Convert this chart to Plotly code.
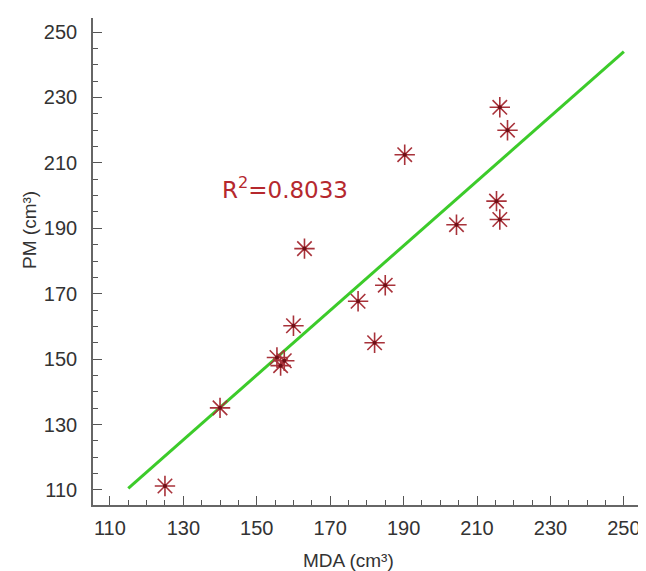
import plotly.graph_objects as go

# Data
mda = [125, 140, 155.5, 156.5, 157.5, 160, 163, 177.6, 182.1, 185, 190.3, 204.4, 215.3, 216.2, 216.2, 218.3]
pm = [111.2, 135.1, 150.5, 148.0, 149.5, 160.2, 183.8, 167.7, 155.0, 172.6, 212.5, 191.1, 198.3, 192.7, 227.0, 220.0]

fit_x = [115, 250]
fit_y = [110.5, 244]

r2_text = "R<sup>2</sup>=0.8033"
x_title = "MDA (cm³)"
y_title = "PM (cm³)"

fig = go.Figure()
fig.add_trace(go.Scatter(
    x=fit_x, y=fit_y, mode="lines",
    line=dict(color="#3ccb2a", width=3), showlegend=False, hoverinfo="skip"))
fig.add_trace(go.Scatter(
    x=mda, y=pm, mode="markers",
    marker=dict(symbol="asterisk", size=17, color="#8e1b22",
                line=dict(color="#a8323a", width=1.6)),
    showlegend=False))
fig.add_trace(go.Scatter(
    x=mda, y=pm, mode="markers",
    marker=dict(symbol="circle", size=4, color="#6e0f16"),
    showlegend=False, hoverinfo="skip"))

axis_common = dict(
    showgrid=False, zeroline=False, showline=True, linecolor="#666666", linewidth=1.6,
    ticks="inside", ticklen=9, tickwidth=1.4, tickcolor="#555555",
    tickfont=dict(family="Liberation Sans, Arial", size=20, color="#333333"),
    tickmode="linear", tick0=110, dtick=20,
    minor=dict(ticks="inside", ticklen=5, tickwidth=1.2, tickcolor="#555555",
               tickmode="linear", dtick=5, tick0=110, showgrid=False),
)

fig.update_xaxes(range=[105.4, 258.2], ticklabelstandoff=4, **axis_common)
fig.update_yaxes(range=[105.4, 254.3], ticklabelstandoff=10, **axis_common)

fig.update_layout(
    width=646, height=571,
    margin=dict(l=85, r=0, t=10, b=74),
    plot_bgcolor="white", paper_bgcolor="white",
    annotations=[
        dict(x=157.7, y=202.4, xref="x", yref="y", text=r2_text, showarrow=False,
             font=dict(family="DejaVu Sans", size=23, color="#b5282e")),
        dict(x=0, y=0, xref="paper", yref="paper", xshift=255, yshift=-55,
             text=x_title, showarrow=False, xanchor="center", yanchor="middle",
             font=dict(family="Liberation Sans, Arial", size=19, color="#333333")),
        dict(x=0, y=189.5, xref="paper", yref="y", xshift=-63, text=y_title, showarrow=False,
             textangle=-90, xanchor="center", yanchor="middle",
             font=dict(family="Liberation Sans, Arial", size=19, color="#333333")),
    ],
)

fig.write_html("out.html")
